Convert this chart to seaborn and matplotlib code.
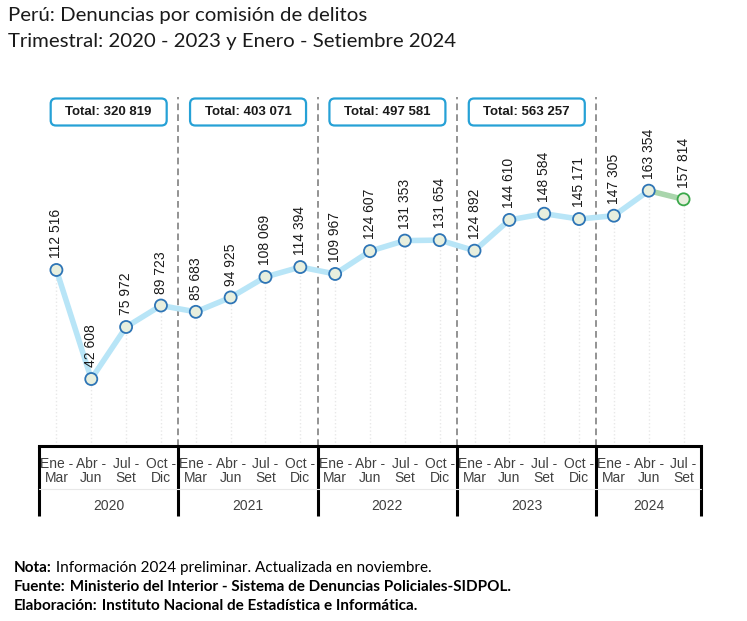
import matplotlib
matplotlib.use("Agg")
import matplotlib.pyplot as plt
import matplotlib.transforms as mtransforms
from matplotlib.patches import FancyBboxPatch
import seaborn as sns
import pandas as pd

quarters = ["Ene -\nMar", "Abr -\nJun", "Jul -\nSet", "Oct -\nDic"]
years = ["2020", "2021", "2022", "2023", "2024"]
values = [112516, 42608, 75972, 89723,
          85683, 94925, 108069, 114394,
          109967, 124607, 131353, 131654,
          124892, 144610, 148584, 145171,
          147305, 163354, 157814]
totals = ["Total: 320 819", "Total: 403 071", "Total: 497 581", "Total: 563 257"]

tick_labels = [quarters[i % 4] for i in range(len(values))]
df = pd.DataFrame({"x": range(len(values)), "y": values})

sns.set_theme(style="white")
plt.rcParams["font.family"] = ["Liberation Sans Narrow", "Liberation Sans", "DejaVu Sans"]

W, H = 747, 621
fig = plt.figure(figsize=(W / 100, H / 100), dpi=100)
L, R, B, T = 39, 701, 445.5, 97
ax = fig.add_axes([L / W, (H - B) / H, (R - L) / W, (B - T) / H])
ax.set_xlim(-0.5, len(values) - 0.5)
ax.set_ylim(0, 223400)
for s in ["left", "right", "top"]:
    ax.spines[s].set_visible(False)
ax.spines["bottom"].set_color("black")
ax.spines["bottom"].set_linewidth(2.2)
ax.set_yticks([])
ax.set_xticks(df["x"])
ax.set_xticklabels(tick_labels, fontsize=10, color="#404040", linespacing=1.05)
ax.tick_params(axis="x", length=0, pad=8)

# drop lines
ax.vlines(df["x"], 0, df["y"], color="#e8e8e8", lw=1, ls=":", zorder=1)

# year separators (dashed) and table lines
trans = mtransforms.blended_transform_factory(ax.transData, ax.transAxes)
bounds = [-0.5 + 4 * k for k in range(len(years))] + [len(values) - 0.5]
for b in bounds[1:-1]:
    ax.plot([b, b], [0, 1], transform=trans, color="#808080", lw=1.2, ls=(0, (4, 2.5)), zorder=1)
depth = -70 / (B - T)
for b in bounds:
    ax.plot([b, b], [0, depth], transform=trans, color="black", lw=2.2, clip_on=False, solid_capstyle="butt")
ax.plot([bounds[0], bounds[-1]], [-43 / (B - T)] * 2, transform=trans, color="#e8e8e8", lw=0.8, clip_on=False)
for k, yr in enumerate(years):
    ax.text((bounds[k] + bounds[k + 1]) / 2, -61 / (B - T), yr, transform=trans,
            ha="center", va="center", fontsize=10, color="#404040")

# line
sns.lineplot(data=df.iloc[:18], x="x", y="y", ax=ax, color="#b8e5f7", lw=4, zorder=2)
sns.lineplot(data=df.iloc[17:], x="x", y="y", ax=ax, color="#a9d5ac", lw=4, zorder=2)
edge = ["#2e75b6"] * 18 + ["#3aa84a"]
sns.scatterplot(data=df, x="x", y="y", ax=ax, s=75, color="#e8efde", edgecolor=edge,
                linewidth=1.3, zorder=3, legend=False)
ax.set_xlabel("")
ax.set_ylabel("")

# value labels
for xi, v in zip(df["x"], df["y"]):
    ax.annotate(f"{v:,}".replace(",", " "), (xi, v), xytext=(0, 8.5), textcoords="offset points",
                rotation=90, ha="center", va="bottom", fontsize=10, color="#1a1a1a")

# totals boxes
bw, bh = 116 / (R - L), 27 / (B - T)
yc = (B - 112) / (B - T)
for k, t in enumerate(totals):
    xc = ((bounds[k] + bounds[k + 1]) / 2 + 0.5) / len(values)
    p = FancyBboxPatch((xc - bw / 2, yc - bh / 2), bw, bh, transform=ax.transAxes,
                       boxstyle="round,pad=0,rounding_size=0.008",
                       mutation_aspect=(R - L) / (B - T),
                       fc="white", ec="#26a1d6", lw=1.6, zorder=4, clip_on=False)
    ax.add_patch(p)
    ax.text(xc, yc, t, transform=ax.transAxes, ha="center", va="center",
            fontsize=9.5, fontweight="bold", color="#1a1a1a", zorder=5)

# title
tf = ["Lato", "DejaVu Sans"]
fig.text(8 / W, 1 - 15 / H, "Perú: Denuncias por comisión de delitos", family=tf,
         fontsize=14.7, ha="left", va="center", color="#1a1a1a")
fig.text(8 / W, 1 - 42 / H, "Trimestral: 2020 - 2023 y Enero - Setiembre 2024", family=tf,
         fontsize=14.7, ha="left", va="center", color="#1a1a1a")

# footnotes
notes = [("Nota:", " Información 2024 preliminar. Actualizada en noviembre.", "normal"),
         ("Fuente:", " Ministerio del Interior - Sistema de Denuncias Policiales-SIDPOL.", "bold"),
         ("Elaboración:", " Instituto Nacional de Estadística e Informática.", "bold")]
for i, (a, b, w) in enumerate(notes):
    t1 = fig.text(14 / W, 1 - (568 + 19 * i) / H, a, family=tf, fontsize=11,
                  fontweight="bold", ha="left", va="center", color="black")
    fig.canvas.draw()
    ax.annotate(b, xy=(1, 0), xycoords=t1, ha="left", va="bottom", family=tf,
                fontsize=11, fontweight=w, color="black", annotation_clip=False)

fig.savefig("out.png", dpi=100)
